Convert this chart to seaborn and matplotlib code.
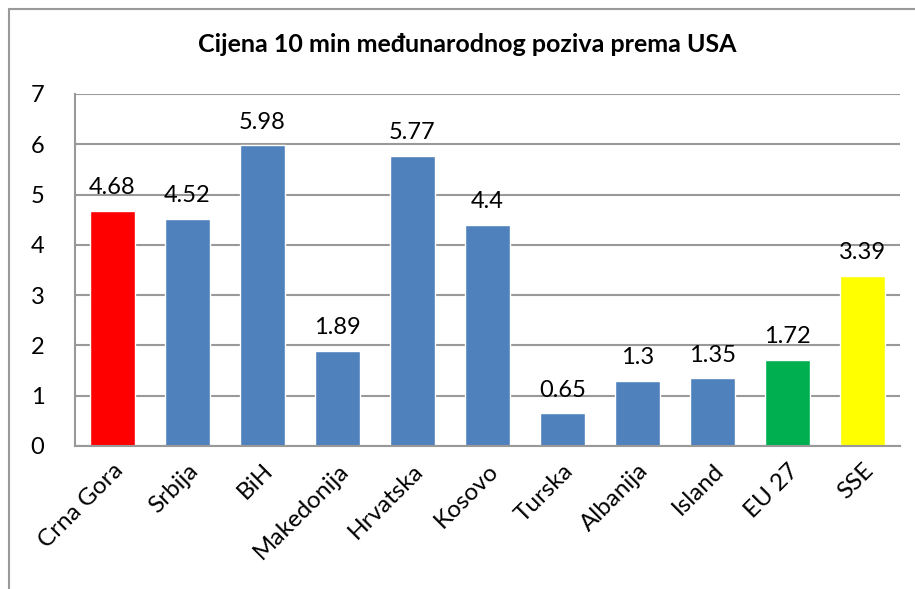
import matplotlib
matplotlib.use('Agg')
import matplotlib.pyplot as plt
import seaborn as sns
import pandas as pd
from matplotlib.lines import Line2D

countries = ['Crna Gora', 'Srbija', 'BiH', 'Makedonija', 'Hrvatska', 'Kosovo',
             'Turska', 'Albanija', 'Island', 'EU 27', 'SSE']
prices = [4.68, 4.52, 5.98, 1.89, 5.77, 4.4, 0.65, 1.3, 1.35, 1.72, 3.39]
bar_colors = ['#FF0000', '#4F81BD', '#4F81BD', '#4F81BD', '#4F81BD', '#4F81BD',
              '#4F81BD', '#4F81BD', '#4F81BD', '#00B050', '#FFFF00']

sns.set_style('white')
plt.rcParams['font.family'] = ['Lato', 'DejaVu Sans']
plt.rcParams['text.color'] = 'black'
plt.rcParams['xtick.color'] = 'black'
plt.rcParams['ytick.color'] = 'black'

df = pd.DataFrame({'zemlja': countries, 'cijena': prices})

fig = plt.figure(figsize=(9.15, 5.89), dpi=100)
ax = fig.add_axes([75/915, 1 - 446/589, 825/915, 352/589])

sns.barplot(data=df, x='zemlja', y='cijena', hue='zemlja', palette=bar_colors,
            legend=False, width=0.59, saturation=1, ax=ax)

for c in ax.containers:
    ax.bar_label(c, labels=[f'{v:g}' for v in c.datavalues], padding=9, fontsize=17)

ax.set_ylim(0, 7)
ax.set_yticks(range(8))
ax.yaxis.grid(True, color='#999999', lw=1.5)
ax.set_axisbelow(True)
for s in ['top', 'right']:
    ax.spines[s].set_visible(False)
ax.spines['left'].set_color('#999999')
ax.spines['bottom'].set_color('#999999')
ax.spines['left'].set_linewidth(1.5)
ax.spines['bottom'].set_linewidth(1.5)
ax.tick_params(axis='y', labelsize=17, length=0, pad=22)
ax.tick_params(axis='x', labelsize=17.5, length=0, pad=10)
plt.setp(ax.get_xticklabels(), rotation=45, ha='right', rotation_mode='anchor')
ax.set_xlabel('')
ax.set_ylabel('')

fig.text(467/915, 1 - 45/589, 'Cijena 10 min međunarodnog poziva prema USA',
         ha='center', va='center', fontsize=18, fontweight='bold')

# okvir grafikona
fig.add_artist(Line2D([9/915, 9/915], [0, 1 - 9/589], color='#999999', lw=1.5,
                      transform=fig.transFigure))
fig.add_artist(Line2D([9/915, 1], [1 - 9/589, 1 - 9/589], color='#999999', lw=1.5,
                      transform=fig.transFigure))

plt.savefig('out.png')
